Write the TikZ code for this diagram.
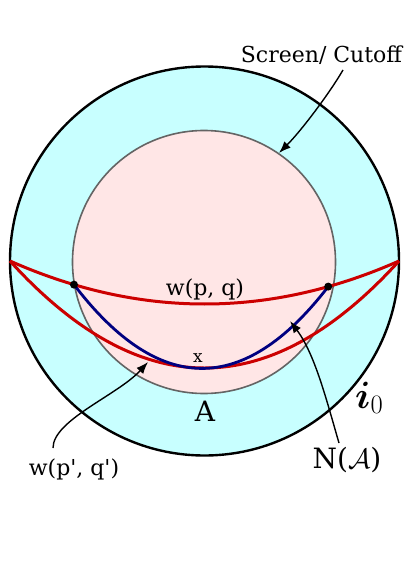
\RequirePackage{fix-cm}
\documentclass[tikz,border=0pt]{standalone}
\usepackage{fontspec}
\usepackage{bm}
\setmainfont{DejaVu Serif}
\usetikzlibrary{arrows.meta}
\definecolor{ringcyan}{RGB}{200,255,255}
\definecolor{diskpink}{RGB}{255,230,230}
\definecolor{wred}{RGB}{204,0,0}
\definecolor{nblue}{RGB}{0,0,128}
\definecolor{rimgray}{RGB}{100,100,100}
\begin{document}
\begin{tikzpicture}[x=1pt,y=-1pt,
  outerc/.style={circle,draw=black,line width=2.4pt,fill=ringcyan,inner sep=0pt,minimum size=389pt},
  innerc/.style={circle,draw=rimgray,line width=1.6pt,fill=diskpink,inner sep=0pt,minimum size=263pt},
  geod/.style={draw=wred,line width=3pt},
  minsurf/.style={draw=nblue,line width=2.8pt},
  dotm/.style={circle,fill=black,inner sep=0pt,minimum size=8pt},
  arr/.style={draw=black,line width=1.4pt,-{Latex[length=12pt,width=9pt]}},
  lbl/.style={inner sep=0pt,anchor=base}]
\useasboundingbox (0,0) rectangle (409,578);
\fill[white] (0,0) rectangle (409,578);
% circles
\node[outerc] (bulk) at (204.5,261) {};
\node[innerc] (region) at (204,262) {};
% end points on the screen
\coordinate (L) at (10,261);
\coordinate (R) at (399,261);
% lower geodesic w(p',q')
\draw[geod] (L) .. controls (139.67,403.67) and (269.33,403.67) .. (R);
% upper geodesic w(p,q)
\draw[geod] (L) .. controls (139.67,318.33) and (269.33,318.33) .. (R)
  coordinate[pos=0.1645] (p) coordinate[pos=0.818] (q);
% minimal surface N(A)
\draw[minsurf] (p) .. controls (159,396) and (244,396) .. (q);
\node[dotm] (pdot) at (p) {};
\node[dotm] (qdot) at (q) {};
% labels
\node[lbl,font=\fontsize{22}{26}\selectfont] (screen) at (321.5,63) {Screen/ Cutoff};
\node[lbl,font=\fontsize{22}{26}\selectfont] (wpq) at (205,295) {w(p, q)};
\node[lbl,font=\fontsize{17}{20}\selectfont] (xmark) at (198,362) {x};
\node[lbl,font=\fontsize{28}{32}\selectfont] (Alab) at (205,421) {A};
\node[lbl,anchor=base west,font=\fontsize{38}{44}\selectfont] (izero) at (355,408) {$\bm{i}_0$};
\node[lbl,font=\fontsize{28}{32}\selectfont] (NA) at (347,468) {N($\mathcal{A}$)};
\node[lbl,font=\fontsize{22}{26}\selectfont] (wpq2) at (74,475) {w(p\textquotesingle, q\textquotesingle)};
% arrows
\coordinate (s0) at (343,70);
\coordinate (s1) at (279,153);
\draw[arr] (s0) .. controls (329,94) and (301,131) .. (s1);
\coordinate (n0) at (339,443);
\coordinate (n1) at (290,321);
\draw[arr] (n0) .. controls (327,402) and (315,354) .. (n1);
\coordinate (w0) at (53,448);
\coordinate (w1) at (148,362);
\draw[arr] (w0) .. controls (53,420) and (118,395) .. (w1);
\end{tikzpicture}
\end{document}
